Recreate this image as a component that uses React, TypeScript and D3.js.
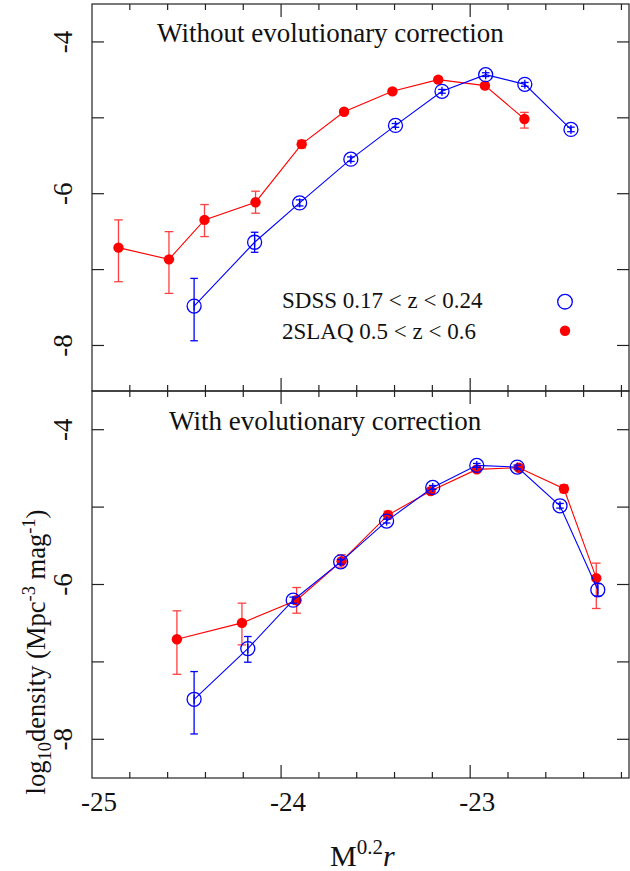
import React from "react";
import * as d3 from "d3";

// ---------- DATA ----------
// Top panel: without evolutionary correction
const topRedX = [-24.86, -24.593, -24.405, -24.135, -23.891, -23.667, -23.411, -23.169, -22.922, -22.713];
const topRedY = [-6.711, -6.865, -6.345, -6.112, -5.347, -4.92, -4.651, -4.497, -4.576, -5.016];
const topRedUp = [0.366, 0.365, 0.202, 0.145, 0.05, 0.03, 0.03, 0.03, 0.03, 0.088];
const topRedDn = [0.449, 0.449, 0.22, 0.145, 0.05, 0.03, 0.03, 0.03, 0.03, 0.119];

const topBlueX = [-24.46, -24.14, -23.902, -23.631, -23.395, -23.149, -22.918, -22.711, -22.467];
const topBlueY = [-7.481, -6.64, -6.121, -5.545, -5.1, -4.651, -4.431, -4.559, -5.153];
const topBlueUp = [0.365, 0.132, 0.04, 0.03, 0.025, 0.025, 0.025, 0.025, 0.03];
const topBlueDn = [0.457, 0.132, 0.04, 0.03, 0.025, 0.025, 0.025, 0.025, 0.03];

// Bottom panel: with evolutionary correction
const botRedX = [-24.551, -24.207, -23.918, -23.68, -23.435, -23.209, -22.965, -22.742, -22.504, -22.333];
const botRedY = [-6.707, -6.496, -6.203, -5.698, -5.103, -4.793, -4.513, -4.491, -4.763, -5.918];
const botRedUp = [0.367, 0.255, 0.164, 0.082, 0.05, 0.03, 0.03, 0.03, 0.05, 0.194];
const botRedDn = [0.453, 0.284, 0.168, 0.078, 0.05, 0.03, 0.03, 0.03, 0.05, 0.392];

const botBlueX = [-24.46, -24.176, -23.936, -23.685, -23.442, -23.198, -22.965, -22.751, -22.525, -22.325];
const botBlueY = [-7.483, -6.828, -6.203, -5.707, -5.181, -4.746, -4.461, -4.483, -4.983, -6.069];
const botBlueUp = [0.358, 0.156, 0.04, 0.03, 0.025, 0.025, 0.025, 0.025, 0.03, 0.08];
const botBlueDn = [0.448, 0.176, 0.04, 0.03, 0.025, 0.025, 0.025, 0.025, 0.03, 0.08];

const xTickLabels = [-25, -24, -23];
const yTickLabels = [-4, -6, -8];
const yMinorTicks = [-4, -5, -6, -7, -8];

const topTitle = "Without evolutionary correction";
const botTitle = "With evolutionary correction";
const legendSDSS = "SDSS 0.17 < z < 0.24";
const legend2SLAQ = "2SLAQ 0.5 < z < 0.6";

// ---------- LAYOUT ----------
const W = 630;
const H = 871;
const left = 92;
const right = 629;
const top = 4;
const mid = 391;
const bottom = 778;
const FONT = "'Liberation Serif', 'Times New Roman', serif";
const RED = "#ff0000";
const BLUE = "#0000ff";

const x = d3.scaleLinear().domain([-25, -22.16]).range([left, right]);
const yTop = d3.scaleLinear().domain([-8.6, -3.5]).range([mid, top]);
const yBot = d3.scaleLinear().domain([-8.5, -3.5]).range([bottom, mid]);

const xMinor = d3.range(-25, -22.1, 0.2).map((v) => Math.round(v * 10) / 10);

type Series = { xs: number[]; ys: number[]; up: number[]; dn: number[] };

function ErrorSeries({ s, y, color, open }: { s: Series; y: d3.ScaleLinear<number, number>; color: string; open: boolean }) {
  const pts = s.xs.map((xv, i) => [x(xv), y(s.ys[i])] as [number, number]);
  const line = d3.line()(pts) || "";
  const cap = open ? 3.8 : 4.3;
  return (
    <g>
      <path d={line} fill="none" stroke={color} strokeWidth={1.1} />
      {s.xs.map((xv, i) => {
        const cx = x(xv);
        const y1 = y(s.ys[i] + s.up[i]);
        const y2 = y(s.ys[i] - s.dn[i]);
        return (
          <g key={i} stroke={color} strokeWidth={1.3} opacity={open ? 1 : 0.75}>
            <line x1={cx} x2={cx} y1={y1} y2={y2} />
            <line x1={cx - cap} x2={cx + cap} y1={y1} y2={y1} />
            <line x1={cx - cap} x2={cx + cap} y1={y2} y2={y2} />
          </g>
        );
      })}
      {pts.map((p, i) =>
        open ? (
          <g key={i} stroke={color} fill="none">
            <circle cx={p[0]} cy={p[1]} r={7} strokeWidth={1.3} />
            <line x1={p[0]} x2={p[0]} y1={p[1] - 4.5} y2={p[1] + 4.5} strokeWidth={1.3} />
          </g>
        ) : (
          <circle key={i} cx={p[0]} cy={p[1]} r={5.2} fill={color} />
        )
      )}
    </g>
  );
}

function Panel({ y, y0, y1 }: { y: d3.ScaleLinear<number, number>; y0: number; y1: number }) {
  return (
    <g stroke="#222" strokeWidth={1.2}>
      {xMinor.map((v, i) => {
        const major = Math.abs(v - Math.round(v)) < 1e-6;
        const len = major ? 13 : 6;
        const px = x(v);
        if (px <= left + 0.5 || px >= right - 0.5) return null;
        return (
          <g key={i}>
            <line x1={px} x2={px} y1={y1} y2={y1 - len} />
            <line x1={px} x2={px} y1={y0} y2={y0 + len} />
          </g>
        );
      })}
      {yMinorTicks.map((v, i) => (
        <g key={i}>
          <line x1={left} x2={left + 12} y1={y(v)} y2={y(v)} />
          <line x1={right} x2={right - 12} y1={y(v)} y2={y(v)} />
        </g>
      ))}
      <rect x={left} y={y0} width={right - left} height={y1 - y0} fill="none" />
    </g>
  );
}

function YTickLabels({ y }: { y: d3.ScaleLinear<number, number> }) {
  return (
    <g fontFamily={FONT} fontSize={27} fill="#111">
      {yTickLabels.map((v) => (
        <text key={v} transform={`translate(72,${y(v)}) rotate(-90)`} textAnchor="middle">
          {String(v)}
        </text>
      ))}
    </g>
  );
}

export default function App() {
  return (
    <svg width={W} height={H} style={{ position: "absolute", left: 0, top: 0, background: "#fff" }}>
      <rect x={0} y={0} width={W} height={H} fill="#fff" />
      <Panel y={yTop} y0={top} y1={mid} />
      <Panel y={yBot} y0={mid} y1={bottom} />

      <ErrorSeries s={{ xs: topRedX, ys: topRedY, up: topRedUp, dn: topRedDn }} y={yTop} color={RED} open={false} />
      <ErrorSeries s={{ xs: topBlueX, ys: topBlueY, up: topBlueUp, dn: topBlueDn }} y={yTop} color={BLUE} open={true} />
      <ErrorSeries s={{ xs: botRedX, ys: botRedY, up: botRedUp, dn: botRedDn }} y={yBot} color={RED} open={false} />
      <ErrorSeries s={{ xs: botBlueX, ys: botBlueY, up: botBlueUp, dn: botBlueDn }} y={yBot} color={BLUE} open={true} />

      <g fontFamily={FONT} fontSize={27} fill="#111">
        <text x={157} y={42}>{topTitle}</text>
        <text x={169} y={430}>{botTitle}</text>
      </g>

      <g fontFamily={FONT} fontSize={23} fill="#111">
        <text x={282} y={308}>{legendSDSS}</text>
        <text x={282} y={338.5}>{legend2SLAQ}</text>
      </g>
      <circle cx={565} cy={301.7} r={7.3} fill="none" stroke={BLUE} strokeWidth={1.3} />
      <circle cx={565} cy={330.7} r={5.2} fill={RED} />

      <YTickLabels y={yTop} />
      <YTickLabels y={yBot} />

      <g fontFamily={FONT} fontSize={27} fill="#111">
        {xTickLabels.map((v) => (
          <text key={v} x={x(v) + 7} y={811} textAnchor="middle">{String(v)}</text>
        ))}
      </g>

      <text x={330} y={866} fontFamily={FONT} fontSize={30} fill="#111">
        M<tspan fontSize={21} dy={-12}>0.2</tspan>
        <tspan dy={12} fontStyle="italic">r</tspan>
      </text>

      <text transform={`translate(45,652) rotate(-90)`} textAnchor="middle" fontFamily={FONT} fontSize={26.5} fill="#111">
        log<tspan fontSize={18.5} dy={6}>10</tspan>
        <tspan dy={-6}>density (Mpc</tspan>
        <tspan fontSize={18.5} dy={-10}>-3</tspan>
        <tspan dy={10}> mag</tspan>
        <tspan fontSize={18.5} dy={-10}>-1</tspan>
        <tspan dy={10}>)</tspan>
      </text>
    </svg>
  );
}
